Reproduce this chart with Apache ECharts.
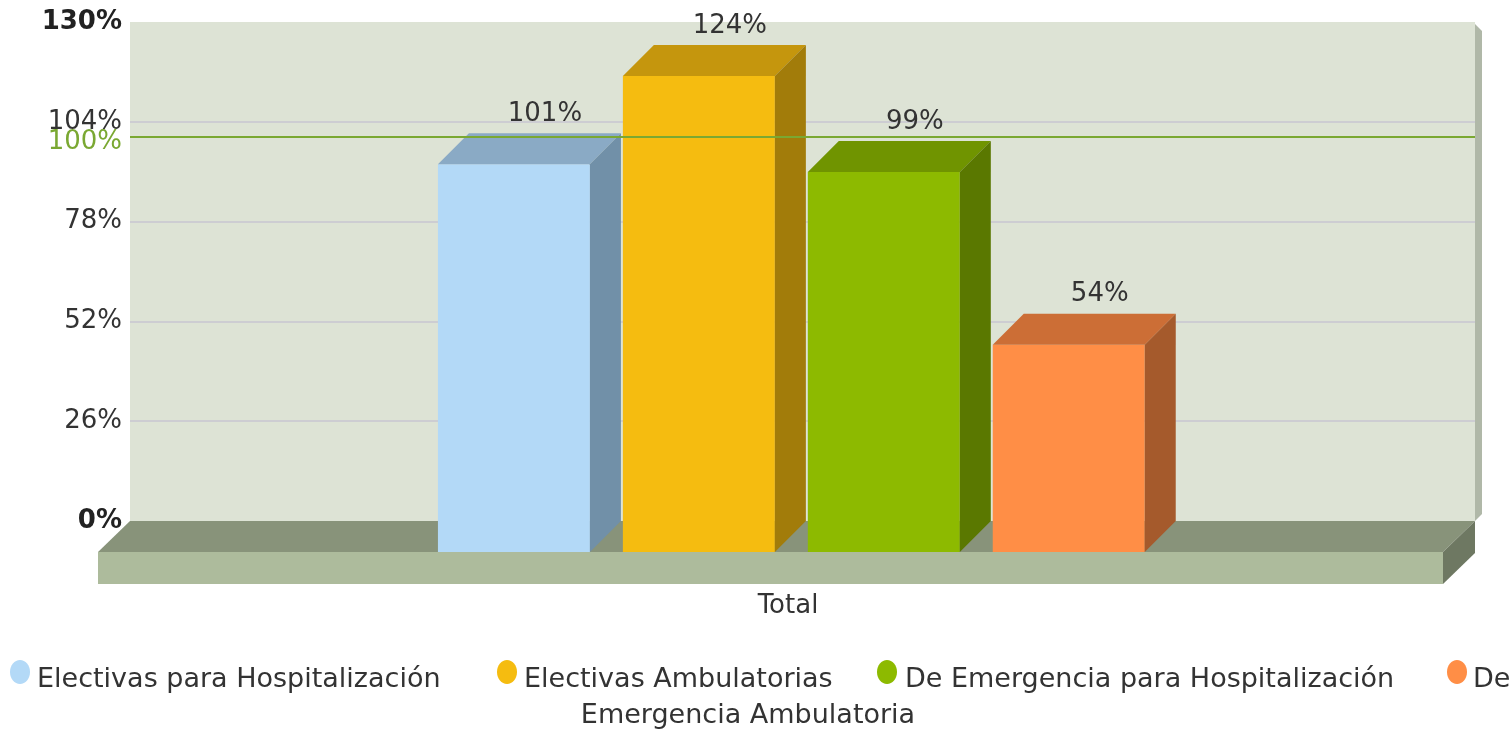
<!DOCTYPE html>
<html>
<head>
<meta charset="utf-8">
<script src="https://cdn.jsdelivr.net/npm/echarts@6/dist/echarts.min.js"></script>
<style>
  html, body { margin: 0; padding: 0; background: #fff; }
  #chart { width: 1512px; height: 730px; }
</style>
</head>
<body>
<div id="chart"></div>
<script>
const categories = ['Total'];
const seriesNames = [
  'Electivas para Hospitalización',
  'Electivas Ambulatorias',
  'De Emergencia para Hospitalización',
  'De Emergencia Ambulatoria'
];
const seriesValues = [[101], [124], [99], [54]];
const targetValue = 100;
const yMin = 0, yMax = 130, yStep = 26;

const frontColors = ['#B3D9F7', '#F5BC10', '#8DBA00', '#FF8E46'];
const topColors = ['#8AAAC5', '#C5960D', '#709400', '#CC6E36'];
const sideColors = ['#7190A8', '#A27C0A', '#5A7800', '#A55A2C'];

const FONT = 'DejaVu Sans';
const FS = 26;
const DEPTH = 31;

const chart = echarts.init(document.getElementById('chart'));

// 3d bar drawn from the axis scale
const renderBar = (i) => (params, api) => {
  const cat = api.value(0);
  const val = api.value(1);
  const base = api.coord([cat, 0]);
  const top = api.coord([cat, val]);
  const band = api.size([1, 0])[0];
  const w = band * 0.113;
  const bl = base[0] + band * (-0.248 + i * 0.1375);
  const yt = top[1], yb = base[1];
  return {
    type: 'group',
    children: [
      {
        type: 'rect',
        shape: { x: bl - DEPTH, y: yt + DEPTH, width: w, height: yb - yt },
        style: { fill: frontColors[i] }
      },
      {
        type: 'polygon',
        shape: { points: [[bl - DEPTH, yt + DEPTH], [bl - DEPTH + w, yt + DEPTH], [bl + w, yt], [bl, yt]] },
        style: { fill: topColors[i] }
      },
      {
        type: 'polygon',
        shape: { points: [[bl - DEPTH + w, yt + DEPTH], [bl + w, yt], [bl + w, yb], [bl - DEPTH + w, yb + DEPTH]] },
        style: { fill: sideColors[i] }
      },
      {
        type: 'text',
        x: bl + w / 2,
        y: yt - 19,
        style: {
          text: Math.round(val) + '%',
          fill: '#333',
          font: FS + 'px "' + FONT + '"',
          align: 'center',
          verticalAlign: 'middle'
        }
      }
    ]
  };
};

const series = seriesNames.map((name, i) => ({
  name: name,
  type: 'custom',
  renderItem: renderBar(i),
  encode: { x: 0, y: 1 },
  data: seriesValues[i].map((v, k) => [k, v]),
  z: 3
}));

series[0].markLine = {
  silent: true,
  symbol: 'none',
  data: [{ yAxis: targetValue }],
  lineStyle: { color: '#7AA832', width: 2, type: 'solid' },
  label: {
    position: 'start',
    distance: 8,
    formatter: '{t|' + targetValue + '%}',
    rich: { t: { color: '#7AA832', fontFamily: FONT, fontSize: FS, padding: [10, 0, 0, 0] } }
  },
  z: 4
};

// legend drawn as graphic so the last item wraps like the original
const legendItems = [
  { marker: 20, text: 37 },
  { marker: 507, text: 524 },
  { marker: 887, text: 905 },
  { marker: 1457, text: 1473 }
];
const legendY = 680;
const LFS = 27;
const legendGraphic = [];
seriesNames.forEach((name, i) => {
  const it = legendItems[i];
  legendGraphic.push({
    type: 'ellipse',
    shape: { cx: it.marker, cy: legendY - 8, rx: 10, ry: 12 },
    style: { fill: frontColors[i] }
  });
  legendGraphic.push({
    type: 'text',
    x: it.text,
    y: legendY,
    style: { text: i === 3 ? 'De' : name, fill: '#333', font: LFS + 'px "' + FONT + '"', verticalAlign: 'middle' }
  });
});
legendGraphic.push({
  type: 'text',
  x: 748,
  y: 716,
  style: { text: 'Emergencia Ambulatoria', fill: '#333', font: LFS + 'px "' + FONT + '"', align: 'center', verticalAlign: 'middle' }
});

const option = {
  animation: false,
  grid: {
    left: 130,
    right: 37,
    top: 22,
    bottom: 209,
    show: true,
    backgroundColor: '#DDE3D5',
    borderWidth: 0
  },
  xAxis: {
    type: 'category',
    data: categories,
    axisLine: { show: false },
    axisTick: { show: false },
    axisLabel: {
      margin: 72,
      color: '#333',
      fontFamily: FONT,
      fontSize: FS,
      padding: [0, 29, 0, 0]
    }
  },
  yAxis: {
    type: 'value',
    min: yMin,
    max: yMax,
    interval: yStep,
    axisLine: { show: false },
    axisTick: { show: false },
    splitLine: {
      lineStyle: { color: ['rgba(0,0,0,0)', '#CDCDD2', '#CDCDD2', '#CDCDD2', '#CDCDD2', 'rgba(0,0,0,0)'], width: 2 }
    },
    axisLabel: {
      margin: 8,
      color: '#333',
      fontFamily: FONT,
      fontSize: FS,
      formatter: (v) => (v === yMin || v === yMax) ? '{b|' + v + '%}' : v + '%',
      rich: { b: { fontWeight: 'bold', fontSize: FS, fontFamily: FONT, color: '#222' } }
    }
  },
  graphic: [
    // wall edge and floor
    { type: 'polygon', z: 1, shape: { points: [[1475, 24], [1482, 31], [1482, 514], [1475, 521]] }, style: { fill: '#B0B8A8' } },
    { type: 'polygon', z: 1, shape: { points: [[130, 521], [1475, 521], [1443, 552], [98, 552]] }, style: { fill: '#88937A' } },
    { type: 'rect', z: 1, shape: { x: 98, y: 552, width: 1345, height: 32 }, style: { fill: '#ADBB9C' } },
    { type: 'polygon', z: 1, shape: { points: [[1443, 552], [1475, 521], [1475, 553], [1443, 584]] }, style: { fill: '#6E7862' } },
    { type: 'group', z: 5, children: legendGraphic }
  ],
  series: series
};

chart.setOption(option);
</script>
</body>
</html>
